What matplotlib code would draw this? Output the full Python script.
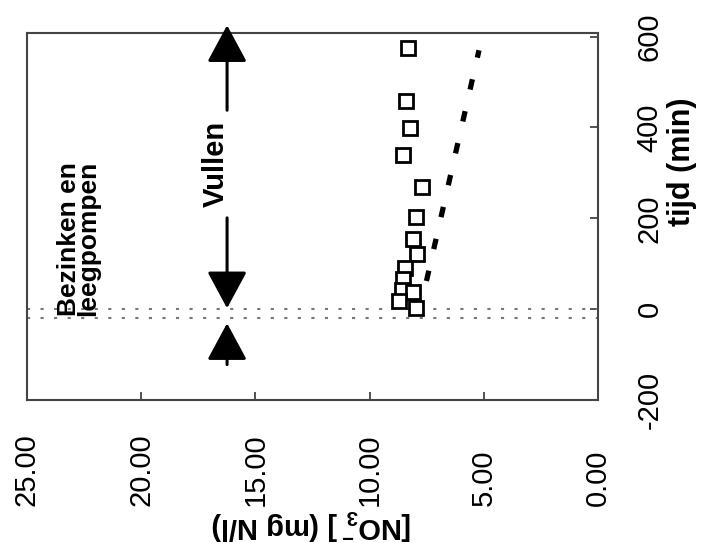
import matplotlib
matplotlib.use("Agg")
import matplotlib.pyplot as plt

plt.rcParams['font.family'] = ['Liberation Sans', 'DejaVu Sans']
plt.rcParams['mathtext.fontset'] = 'custom'
plt.rcParams['mathtext.rm'] = 'Liberation Sans:bold'
plt.rcParams['mathtext.default'] = 'rm'

# data (x = NO3 in mg N/l, y = tijd in min)
no3_meas = [8.32, 8.41, 8.23, 8.52, 7.71, 7.97, 8.09, 7.94, 8.45, 8.55, 8.59, 8.09, 8.70, 7.97]
tijd_meas = [575, 458, 399, 340, 270, 202, 154, 121, 91, 66, 43, 37, 18, 3]
no3_fit = [7.51, 5.21]
tijd_fit = [62, 570]
phase_lines = [0, -20]
xticks = [25, 20, 15, 10, 5, 0]
xticklabels = ["25.00", "20.00", "15.00", "10.00", "5.00", "0.00"]
yticks = [-200, 0, 200, 400, 600]
yticklabels = ["-200", "0", "200", "400", "600"]

fig = plt.figure(figsize=(7.23, 5.43), dpi=100)
ax = fig.add_axes([27/723, (543-400)/543, 571/723, 367/543])

ax.set_xlim(25, 0)
ax.set_ylim(-200, 608)

for t in phase_lines:
    ax.axhline(t, color='#777777', lw=1.5, ls=(0, (1.5, 5)))

ax.plot(no3_meas, tijd_meas, ls='none', marker='s', ms=9.5, mfc='white',
        mec='black', mew=2.0, zorder=3)
ax.plot(no3_fit, tijd_fit, color='black', lw=3.8, ls=(0, (2, 4.2)),
        solid_capstyle='butt', dash_capstyle='butt', zorder=2)

# arrows
xa = 16.24
ap = dict(arrowstyle='-|>,head_length=1.15,head_width=0.62', lw=2.2,
          color='black', mutation_scale=20, shrinkA=0, shrinkB=0)
ax.annotate('', xy=(xa, 625), xytext=(xa, 438), arrowprops=ap, annotation_clip=False)
ax.annotate('', xy=(xa, 2), xytext=(xa, 201), arrowprops=ap, annotation_clip=False)
ax.annotate('', xy=(xa, -31), xytext=(xa, -122), arrowprops=ap, annotation_clip=False)

ax.text(16.75, 320, 'Vullen', rotation=90, ha='center', va='center',
        fontsize=21, fontweight='bold')
ax.text(22.75, -16, 'Bezinken en\nleegpompen', rotation=90, rotation_mode='anchor',
        ha='left', va='center', multialignment='left', fontsize=19,
        fontweight='bold', linespacing=0.72)

for s in ax.spines.values():
    s.set_color('#444444')
    s.set_linewidth(1.5)

ax.set_xticks(xticks)
ax.set_xticklabels(xticklabels)
ax.yaxis.tick_right()
ax.set_yticks(yticks)
ax.set_yticklabels(yticklabels)
ax.tick_params(axis='x', direction='in', length=6, width=1.3, color='#444444',
               labelsize=21, pad=76)
ax.tick_params(axis='y', direction='in', length=6, width=1.3, color='#444444',
               labelsize=21, pad=27, left=False, right=True)
for lab in ax.get_xticklabels():
    lab.set_rotation(90)
    lab.set_va('bottom')
    lab.set_ha('center')
for lab in ax.get_yticklabels():
    lab.set_rotation(90)
    lab.set_va('center')
    lab.set_ha('left')

ax.set_xlabel(r'[NO$_3^-$] (mg N/l)', fontsize=21, fontweight='bold', rotation=180)
ax.xaxis.set_label_coords(0.499, -0.34)
ax.xaxis.label.set_va('center')
ax.yaxis.set_label_position('right')
ax.set_ylabel('tijd (min)', fontsize=22, fontweight='bold', rotation=90)
ax.yaxis.set_label_coords(1.147, 0.648)
ax.yaxis.label.set_va('center')
ax.yaxis.label.set_ha('center')

fig.savefig('out.png', dpi=100)
